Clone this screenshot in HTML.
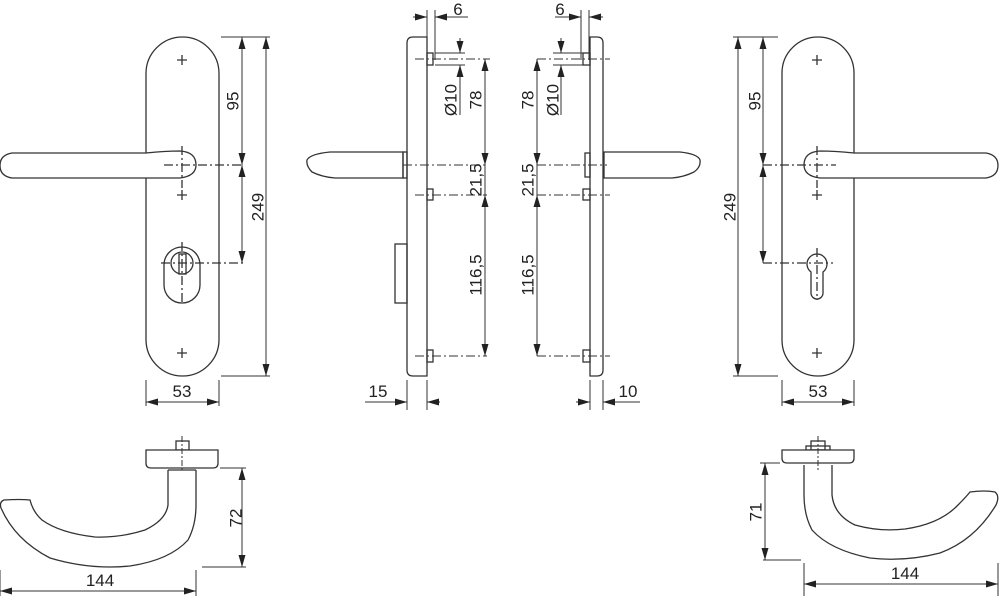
<!DOCTYPE html>
<html><head><meta charset="utf-8"><style>
html,body{margin:0;padding:0;background:#fff;}
svg{display:block}
text{font-family:"Liberation Sans",Arial,sans-serif;font-size:17px;fill:#222}
</style></head><body>
<svg width="1000" height="596" viewBox="0 0 1000 596" xmlns="http://www.w3.org/2000/svg">
<defs>
<marker id="a" markerUnits="userSpaceOnUse" markerWidth="12" markerHeight="8" refX="12" refY="4" orient="auto-start-reverse"><path d="M0,0.5 L12,4 L0,7.5z" fill="#222"/></marker>
</defs>
<g fill="none" stroke="#333" stroke-width="1.3">
<!-- LEFT FRONT -->
<rect x="146" y="37" width="73" height="339" rx="36.5" fill="#fff"/>
<path d="M146,153 L12,153 Q0,155 0,165.5 Q0,176 12,178 L146,178 L180,178 Q196,176 196,165 Q196,152 180,151 Q165,151 146,153 Z" fill="#fff"/>
<path d="M177,60h10M182,55v10M177,195h10M182,190v10M177,353h10M182,348v10"/>
<path d="M182,146v42M164,165h79" stroke-dasharray="9,3,2,3"/>
<rect x="164" y="247" width="36" height="56" rx="18" fill="#fff"/>
<circle cx="182" cy="263" r="11"/>
<rect x="179" y="254" width="7" height="20"/>
<path d="M182,242v62M161,263h82" stroke-dasharray="9,3,2,3"/>
<path d="M221,37h49M221,376h49M219,380v26M146,380v26" stroke-width="1"/>
<path d="M242,37v128" marker-start="url(#a)" marker-end="url(#a)" stroke-width="1"/>
<path d="M242,165v98" marker-start="url(#a)" marker-end="url(#a)" stroke-width="1"/>
<path d="M266,37v339" marker-start="url(#a)" marker-end="url(#a)" stroke-width="1"/>
<path d="M146,402h73" marker-start="url(#a)" marker-end="url(#a)" stroke-width="1"/>

<!-- MID LEFT SIDE -->
<path d="M427,37 L413,37 Q407,37 407,43 L407,370 Q407,376 413,376 L427,376 Z" fill="#fff"/>
<rect x="427" y="53" width="6" height="12"/><rect x="427" y="189" width="6" height="11"/><rect x="427" y="350" width="6" height="12"/>
<path d="M403,152 L330,152 Q310,154 307,160 Q306,166 312,172 Q322,177 335,178 L403,178 Z" fill="#fff"/>
<rect x="403" y="152" width="4" height="26"/>
<rect x="395" y="244" width="12" height="59"/>
<path d="M415,59h75M403,165h84M415,195h72M415,356h72" stroke-dasharray="9,3,2,3" stroke-width="1"/>
<path d="M427,10v27M435,10v50M435,53h30M435,65h30" stroke-width="1"/>
<path d="M413,17h14" marker-end="url(#a)" stroke-width="1"/>
<path d="M468,17h-33" marker-end="url(#a)" stroke-width="1"/>
<path d="M460,38v15" marker-end="url(#a)" stroke-width="1"/>
<path d="M460,115v-50" marker-end="url(#a)" stroke-width="1"/>
<path d="M485,59v106" marker-start="url(#a)" marker-end="url(#a)" stroke-width="1"/>
<path d="M485,165v30" stroke-width="1"/>
<path d="M485,195v161" marker-start="url(#a)" marker-end="url(#a)" stroke-width="1"/>
<path d="M407,380v30M427,380v30" stroke-width="1"/>
<path d="M365,402h42" marker-end="url(#a)" stroke-width="1"/>
<path d="M440,402h-13" marker-end="url(#a)" stroke-width="1"/>

<!-- MID RIGHT SIDE -->
<path d="M590,37 L597,37 Q603,37 603,43 L603,370 Q603,376 597,376 L590,376 Z" fill="#fff"/>
<rect x="583" y="53" width="7" height="12"/><rect x="583" y="189" width="7" height="11"/><rect x="583" y="350" width="7" height="12"/>
<rect x="585" y="153" width="5" height="24"/>
<path d="M604,152 L680,152 Q698,154 700,160 Q701,167 694,172 Q684,177 672,178 L604,178 Z" fill="#fff"/>
<path d="M537,59h73M537,165h70M537,195h73M537,356h73" stroke-dasharray="9,3,2,3" stroke-width="1"/>
<path d="M589,10v50M581,10v50M553,53h30M553,65h30" stroke-width="1"/>
<path d="M603,17h-14" marker-end="url(#a)" stroke-width="1"/>
<path d="M555,17h26" marker-end="url(#a)" stroke-width="1"/>
<path d="M561,38v15" marker-end="url(#a)" stroke-width="1"/>
<path d="M561,115v-50" marker-end="url(#a)" stroke-width="1"/>
<path d="M537,59v106" marker-start="url(#a)" marker-end="url(#a)" stroke-width="1"/>
<path d="M537,165v30" stroke-width="1"/>
<path d="M537,195v161" marker-start="url(#a)" marker-end="url(#a)" stroke-width="1"/>
<path d="M590,380v30M603,380v30" stroke-width="1"/>
<path d="M576,402h14" marker-end="url(#a)" stroke-width="1"/>
<path d="M640,402h-37" marker-end="url(#a)" stroke-width="1"/>

<!-- RIGHT FRONT -->
<rect x="782" y="37" width="72" height="339" rx="36" fill="#fff"/>
<path d="M854,153 L986,153 Q998,155 998,165.5 Q998,176 986,178 L854,178 L820,178 Q804,176 804,165 Q804,152 820,151 Q835,151 854,153 Z" fill="#fff"/>
<path d="M812,60h10M817,55v10M812,195h10M817,190v10M812,353h10M817,348v10"/>
<path d="M817,146v42M763,165h73" stroke-dasharray="9,3,2,3"/>
<path d="M811,272 A10,10 0 1 1 823,272 L823,293 A6,6 0 0 1 811,293 Z" fill="#fff"/>
<path d="M817,248v52M763,263h70" stroke-dasharray="9,3,2,3"/>
<path d="M733,37h45M733,376h45M782,380v26M854,380v26" stroke-width="1"/>
<path d="M738,37v339" marker-start="url(#a)" marker-end="url(#a)" stroke-width="1"/>
<path d="M763,37v128" marker-start="url(#a)" marker-end="url(#a)" stroke-width="1"/>
<path d="M763,165v98" marker-start="url(#a)" marker-end="url(#a)" stroke-width="1"/>
<path d="M782,402h72" marker-start="url(#a)" marker-end="url(#a)" stroke-width="1"/>

<!-- BOTTOM LEFT -->
<rect x="176" y="441" width="13" height="9"/>
<path d="M146,450 L218,450 L218,463 Q218,468 213,468 L151,468 Q146,468 146,463 Z" fill="#fff"/>
<path d="M168,470 L168,505 Q166,520 145,530 Q120,538 95,537 Q60,533 42,520 Q33,512 30,500 Q20,499 4,500 Q-1,502 1,508 Q15,540 50,558 Q90,570 130,566 Q170,560 188,540 Q196,525 196,505 L196,470"/>
<path d="M168,470h28"/>
<path d="M182,436v34" stroke-dasharray="6,2,2,2" stroke-width="1"/>
<path d="M220,468h26M202,567h44M196,570v26M0,570v26" stroke-width="1"/>
<path d="M242,468v99" marker-start="url(#a)" marker-end="url(#a)" stroke-width="1"/>
<path d="M0,591h196" marker-start="url(#a)" marker-end="url(#a)" stroke-width="1"/>

<!-- BOTTOM RIGHT -->
<rect x="811" y="441" width="14" height="9"/>
<rect x="806" y="446" width="24" height="4"/>
<path d="M782,450 L854,450 L854,458 Q854,463 849,463 L787,463 Q782,463 782,458 Z" fill="#fff"/>
<path d="M832,465 L832,495 Q834,515 855,525 Q880,532 905,529 Q940,524 958,505 Q966,497 970,492 Q985,490 995,492 Q1000,496 996,505 Q975,540 940,553 Q905,562 870,558 Q830,550 812,530 Q804,515 804,495 L804,465"/>
<path d="M818,436v34" stroke-dasharray="6,2,2,2" stroke-width="1"/>
<path d="M760,463h20M763,560h38M804,563v33M998,563v33" stroke-width="1"/>
<path d="M765,463v97" marker-start="url(#a)" marker-end="url(#a)" stroke-width="1"/>
<path d="M804,584h194" marker-start="url(#a)" marker-end="url(#a)" stroke-width="1"/>
</g>

<g>
<text x="233" y="101" transform="rotate(-90 233 101)" text-anchor="middle" dominant-baseline="central">95</text>
<text x="258" y="207" transform="rotate(-90 258 207)" text-anchor="middle" dominant-baseline="central">249</text>
<text x="182" y="397" text-anchor="middle">53</text>
<text x="458" y="15" text-anchor="middle">6</text>
<text x="451" y="100" transform="rotate(-90 451 100)" text-anchor="middle" dominant-baseline="central">Ø10</text>
<text x="476" y="100" transform="rotate(-90 476 100)" text-anchor="middle" dominant-baseline="central">78</text>
<text x="476" y="180" transform="rotate(-90 476 180)" text-anchor="middle" dominant-baseline="central">21,5</text>
<text x="476" y="275" transform="rotate(-90 476 275)" text-anchor="middle" dominant-baseline="central">116,5</text>
<text x="378" y="397" text-anchor="middle">15</text>
<text x="560" y="15" text-anchor="middle">6</text>
<text x="553" y="100" transform="rotate(-90 553 100)" text-anchor="middle" dominant-baseline="central">Ø10</text>
<text x="528" y="100" transform="rotate(-90 528 100)" text-anchor="middle" dominant-baseline="central">78</text>
<text x="528" y="180" transform="rotate(-90 528 180)" text-anchor="middle" dominant-baseline="central">21,5</text>
<text x="528" y="275" transform="rotate(-90 528 275)" text-anchor="middle" dominant-baseline="central">116,5</text>
<text x="628" y="397" text-anchor="middle">10</text>
<text x="755" y="101" transform="rotate(-90 755 101)" text-anchor="middle" dominant-baseline="central">95</text>
<text x="730" y="207" transform="rotate(-90 730 207)" text-anchor="middle" dominant-baseline="central">249</text>
<text x="818" y="397" text-anchor="middle">53</text>
<text x="236" y="518" transform="rotate(-90 236 518)" text-anchor="middle" dominant-baseline="central">72</text>
<text x="100" y="586" text-anchor="middle">144</text>
<text x="756" y="512" transform="rotate(-90 756 512)" text-anchor="middle" dominant-baseline="central">71</text>
<text x="905" y="579" text-anchor="middle">144</text>
</g>
</svg>
</body></html>
